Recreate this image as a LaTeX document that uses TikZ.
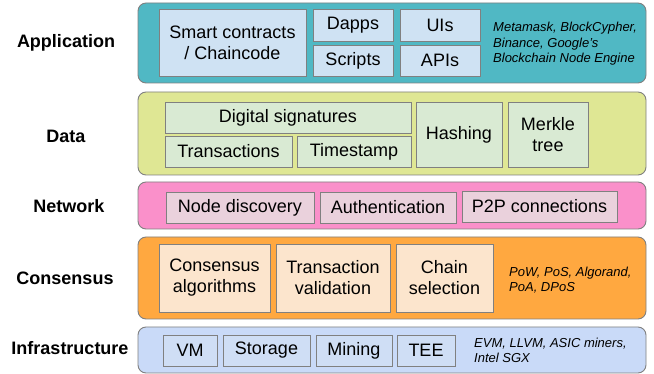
\documentclass[tikz,border=0pt]{standalone}
\usepackage{fontspec}
\setmainfont{Liberation Sans}
\definecolor{appO}{HTML}{50B8C4}
\definecolor{appI}{HTML}{CFE2F3}
\definecolor{datO}{HTML}{DFE794}
\definecolor{datI}{HTML}{D9EAD3}
\definecolor{netO}{HTML}{FA90CA}
\definecolor{netI}{HTML}{EAD1DC}
\definecolor{conO}{HTML}{FFA840}
\definecolor{conI}{HTML}{FCE5CD}
\definecolor{infO}{HTML}{C9DAF8}
\definecolor{infI}{HTML}{CFDEF5}
\definecolor{bord}{HTML}{808080}
\begin{document}
\begin{tikzpicture}[x=1pt,y=-1pt,
  layer/.style={draw=bord,line width=0.9pt,rounded corners=8pt,inner sep=0pt,minimum width=508pt},
  item/.style={draw=bord,line width=0.9pt,inner sep=0pt,align=center,font=\fontsize{18}{21}\selectfont,minimum height=31pt},
  tall/.style={item,minimum height=67pt},
  note/.style={anchor=west,align=left,inner sep=0pt,font=\fontsize{13}{15.5}\selectfont\itshape},
  lbl/.style={font=\fontsize{18}{21}\selectfont\bfseries,inner sep=0pt}]
\useasboundingbox (0,0) rectangle (654,374);
% labels
\node[lbl] (lapp) at (66,43) {Application};
\node[lbl] (ldat) at (66,136) {Data};
\node[lbl] (lnet) at (69,206) {Network};
\node[lbl] (lcon) at (65,278) {Consensus};
\node[lbl] (linf) at (70,348) {Infrastructure};
% Application
\node[layer,fill=appO,minimum height=80pt] (app) at (392,43) {};
\node[tall,fill=appI,minimum width=147pt] (smart) at (232.5,42.5) {Smart contracts\\/ Chaincode};
\node[item,fill=appI,minimum width=80pt,minimum height=32pt] (dapps) at (353,25) {Dapps};
\node[item,fill=appI,minimum width=80pt] (scripts) at (353,60.5) {Scripts};
\node[item,fill=appI,minimum width=80pt,minimum height=32pt] (uis) at (440,25) {UIs};
\node[item,fill=appI,minimum width=80pt] (apis) at (440,60.5) {APIs};
\node[note] (appn) at (493,44) {Metamask, BlockCypher,\\Binance, Google's\\Blockchain Node Engine};
% Data
\node[layer,fill=datO,minimum height=83pt] (dat) at (392,133.5) {};
\node[item,fill=datI,minimum width=246pt] (dsig) at (288,117.5) {Digital signatures};
\node[item,fill=datI,minimum width=127pt] (trans) at (228.5,151.5) {Transactions};
\node[item,fill=datI,minimum width=114pt] (tstamp) at (354,151.5) {Timestamp};
\node[item,fill=datI,minimum width=86pt,minimum height=65pt] (hash) at (459,134.5) {Hashing};
\node[item,fill=datI,minimum width=80pt,minimum height=65pt] (merkle) at (548,134.5) {Merkle\\tree};
% Network
\node[layer,fill=netO,minimum height=47pt] (net) at (392,205.5) {};
\node[item,fill=netI,minimum width=148pt] (nd) at (240,207.5) {Node discovery};
\node[item,fill=netI,minimum width=136pt] (auth) at (388,207.5) {Authentication};
\node[item,fill=netI,minimum width=155pt] (p2p) at (539.5,206.5) {P2P connections};
% Consensus
\node[layer,fill=conO,minimum height=82pt] (con) at (392,278) {};
\node[item,fill=conI,minimum width=111pt,minimum height=68pt] (ca) at (214.5,278) {Consensus\\algorithms};
\node[item,fill=conI,minimum width=114pt,minimum height=68pt] (tv) at (333,278) {Transaction\\validation};
\node[item,fill=conI,minimum width=97pt,minimum height=68pt] (cs) at (444.5,278) {Chain\\selection};
\node[note] (conn) at (509,280) {PoW, PoS, Algorand,\\PoA, DPoS};
% Infrastructure
\node[layer,fill=infO,minimum height=46pt] (inf) at (392,350) {};
\node[item,fill=infI,minimum width=54pt] (vm) at (190,350.5) {VM};
\node[item,fill=infI,minimum width=87pt] (stor) at (266.5,350.5) {Storage};
\node[item,fill=infI,minimum width=76pt] (mine) at (354,350.5) {Mining};
\node[item,fill=infI,minimum width=58pt] (tee) at (426,350.5) {TEE};
\node[note] (infn) at (474,350.5) {EVM, LLVM, ASIC miners,\\Intel SGX};
\end{tikzpicture}
\end{document}
